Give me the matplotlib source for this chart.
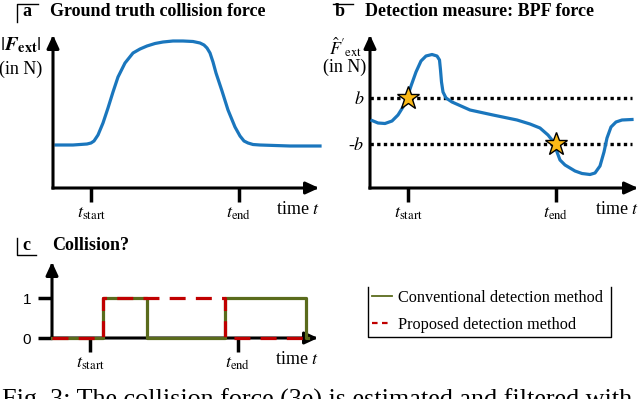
import matplotlib
matplotlib.use('Agg')
import matplotlib.pyplot as plt
from matplotlib.lines import Line2D
from matplotlib.transforms import Affine2D

plt.rcParams['font.family'] = 'Liberation Serif'
plt.rcParams['mathtext.fontset'] = 'stix'

# (a) ground truth collision force |F_ext| (time / force in arbitrary units)
force_t = [3, 20, 34, 38, 41, 45, 50, 55, 60, 65, 72, 80, 87, 94, 102, 110, 120, 130, 140,
           147, 151, 154, 157, 160, 163, 169, 175, 182, 187, 191, 195, 200, 207, 237, 267]
force_v = [43, 43, 44, 45, 47, 53, 65, 80, 96, 111, 125, 135, 139, 142, 144.5, 146, 147, 147, 146.5,
           145, 143, 140, 135, 126, 115, 97, 78, 61, 52, 47, 45, 43.5, 43, 42, 42]

# (b) band-pass filtered force estimate
bpf_t = [2, 8, 15, 22, 28, 33, 37, 41, 46, 51, 56, 62, 67, 69.5, 70.5, 71.5, 73, 76, 82,
         100, 123, 147, 160, 170, 178, 182, 185, 187, 190, 195, 205, 212, 220, 225, 230,
         234, 237, 241, 246, 252, 262]
bpf_v = [0.5, -2, -2.5, 0, 6, 14, 23, 35, 49, 60, 65, 66.5, 65, 61, 51, 39, 29, 23, 19,
         11, 6, 1, -3, -7, -14, -19, -24, -31, -39, -44, -50, -52.5, -53.5, -52, -45,
         -31, -17, -6, -1, 1, 1.5]
b_thr = 23

# (c) collision flags
conv_t = [0, 51, 95, 173, 254, 256]
conv_y = [0, 1, 0, 1, 0, 0]
prop_t = [0, 51, 173, 255]
prop_y = [0, 1, 0, 0]

t_start = 38
t_end = 186

blue = '#1a76bd'
green = '#5a6b1c'
red = '#c00000'
star_c = '#fbb917'

W, H = 640, 399
fig = plt.figure(figsize=(6.4, 3.99), dpi=100)
pix = Affine2D().scale(1 / W, -1 / H).translate(0, 1) + fig.transFigure


def px_axes(x0, x1, y0, y1):
    return fig.add_axes([x0 / W, 1 - y1 / H, (x1 - x0) / W, (y1 - y0) / H])


def arrows(ax):
    for s in ax.spines.values():
        s.set_visible(False)
    for xy in [(1, 0), (0, 1)]:
        ax.annotate('', xy=xy, xytext=(0, 0), xycoords='axes fraction',
                    arrowprops=dict(arrowstyle='-|>,head_length=0.65,head_width=0.3',
                                    lw=2.2, color='k', shrinkA=0, shrinkB=0,
                                    mutation_scale=12, capstyle='projecting'))


def time_ticks(ax, dy):
    ax.set_xticks([t_start, t_end], [r'$t_{\mathrm{start}}$', r'$t_{\mathrm{end}}$'])
    ax.tick_params(axis='x', length=10, width=2.5, pad=2, labelsize=13)
    ax.annotate('time $t$', xy=(1, 0), xycoords='axes fraction', xytext=(1, dy),
                textcoords='offset pixels', ha='right', va='center', fontsize=13)


def line(xs, ys, lw=1.0):
    fig.add_artist(Line2D(xs, ys, transform=pix, color='k', lw=lw))


# panel a
ax = px_axes(53, 319, 35, 188)
ax.set_xlim(0, 266)
ax.set_ylim(0, 153)
ax.plot(force_t, force_v, color=blue, lw=2.3, clip_on=False, solid_joinstyle='round')
ax.set_yticks([])
arrows(ax)
time_ticks(ax, -21)
fig.text(21, 45, r'$|\mathbfit{F}_{\mathbf{ext}}|$', transform=pix, ha='center', va='center', fontsize=14.5)
fig.text(21, 69, '(in N)', transform=pix, ha='center', va='center', fontsize=13)
line([17, 17, 38], [22, 4, 4])
fig.text(27, 12, 'a', transform=pix, ha='center', va='center', fontsize=13, weight='bold')
fig.text(50, 12, 'Ground truth collision force', transform=pix, va='center', fontsize=13, weight='bold')

# panel b
ax = px_axes(370, 638, 35, 188)
ax.set_xlim(0, 268)
ax.set_ylim(-67, 86)
ax.axhline(b_thr, xmax=0.978, color='k', lw=2.4, ls=(0, (1, 1)))
ax.axhline(-b_thr, xmax=0.978, color='k', lw=2.4, ls=(0, (1, 1)))
ax.plot(bpf_t, bpf_v, color=blue, lw=2.3, clip_on=False, zorder=4, solid_joinstyle='round')
ax.plot([t_start, t_end], [b_thr, -b_thr], ls='none', marker='*', ms=17,
        mfc=star_c, mec='k', mew=1, zorder=5)
ax.set_yticks([b_thr, -b_thr], ['$b$', '-$b$'])
ax.tick_params(axis='y', length=0, pad=4, labelsize=13)
arrows(ax)
time_ticks(ax, -22)
fig.text(346, 47, r"$\hat{F}'_{\mathrm{ext}}$", transform=pix, ha='center', va='center', fontsize=13)
fig.text(345, 67, '(in N)', transform=pix, ha='center', va='center', fontsize=13)
line([333, 353], [4, 4])
fig.text(340, 12, 'b', transform=pix, ha='center', va='center', fontsize=13, weight='bold')
fig.text(365, 12, 'Detection measure: BPF force', transform=pix, va='center', fontsize=13, weight='bold')

# panel c
ax = px_axes(52, 318, 262, 338)
ax.set_xlim(0, 266)
ax.set_ylim(0, 1.9)
ax.step(conv_t, conv_y, where='post', color=green, lw=2.3, clip_on=False, zorder=4)
ax.step(prop_t, prop_y, where='post', color=red, lw=2.3, ls=(0, (5, 3.2)),
        clip_on=False, zorder=5)
ax.set_yticks([0, 1], ['0', '1'])
ax.tick_params(axis='y', length=10, width=2.5, pad=5, labelsize=11,
               labelfontfamily='Liberation Sans')
arrows(ax)
time_ticks(ax, -21)
line([17, 17, 36], [238, 255, 255])
fig.text(26, 245, 'c', transform=pix, ha='center', va='center', fontsize=13, weight='bold')
fig.text(52, 245, 'Collision?', transform=pix, va='center', fontsize=13, weight='bold')

# legend
handles = [Line2D([], [], color=green, lw=1.3),
           Line2D([], [], color=red, lw=1.6, ls=(0, (2.5, 2)))]
fig.legend(handles, ['Conventional detection method', 'Proposed detection method'],
           loc='upper left', bbox_to_anchor=(372 / W, 1 - 290 / H), frameon=False,
           fontsize=11.7, handlelength=1.25, handletextpad=0.35, labelspacing=0.65,
           borderaxespad=0, borderpad=0)
line([368, 368, 611, 611], [287, 337, 337, 287], lw=1.0)

fig.text(2, 389, 'Fig. 3: The collision force (3e) is estimated and filtered with',
         transform=pix, va='top', fontsize=18.8)

fig.savefig('out.png', dpi=100)
